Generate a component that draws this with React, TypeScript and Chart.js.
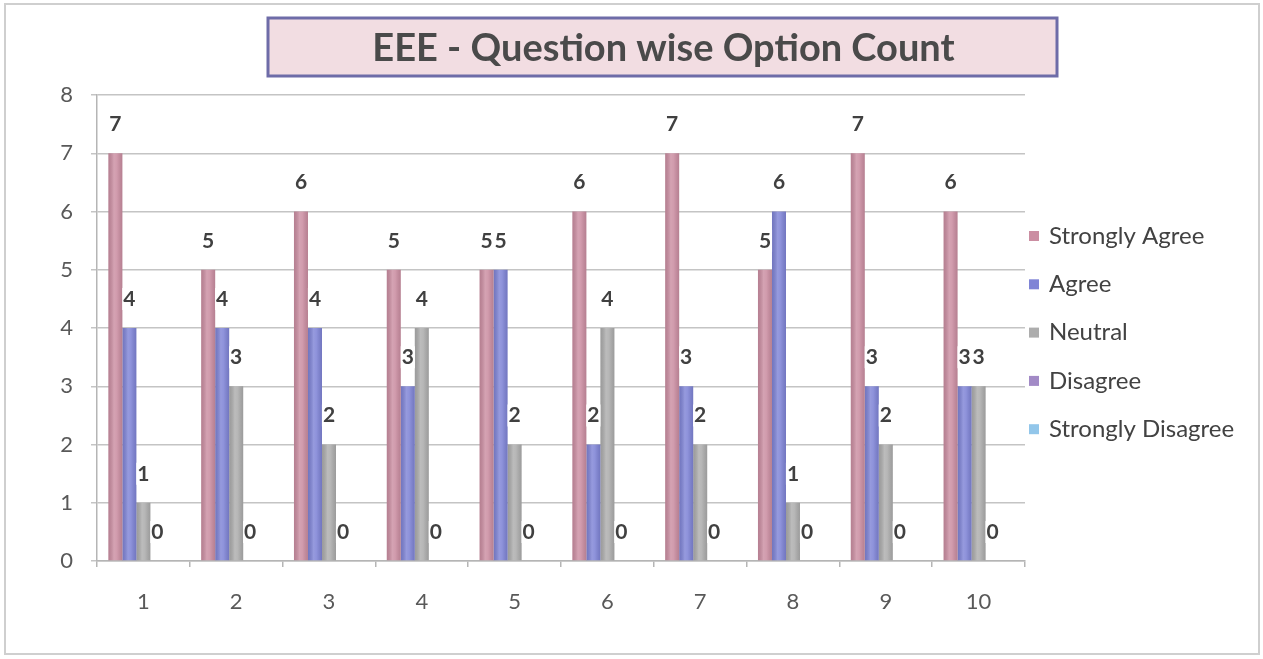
import React, { useEffect, useRef } from "react";
import { Chart, registerables } from "chart.js";

Chart.register(...registerables);

const TITLE = "EEE - Question wise Option Count";
const QUESTIONS = ["1", "2", "3", "4", "5", "6", "7", "8", "9", "10"];
const SERIES_NAMES = ["Strongly Agree", "Agree", "Neutral", "Disagree", "Strongly Disagree"];
const STRONGLY_AGREE = [7, 5, 6, 5, 5, 6, 7, 5, 7, 6];
const AGREE = [4, 4, 4, 3, 5, 2, 3, 6, 3, 3];
const NEUTRAL = [1, 3, 2, 4, 2, 4, 2, 1, 2, 3];
const DISAGREE = [0, 0, 0, 0, 0, 0, 0, 0, 0, 0];
const STRONGLY_DISAGREE = [0, 0, 0, 0, 0, 0, 0, 0, 0, 0];
const Y_TICKS = [0, 1, 2, 3, 4, 5, 6, 7, 8];
const COLORS = ["#cb8ea2", "#7f84d6", "#adadad", "#a28ac6", "#92c6ea"];
const LABELED_SERIES = 4;

const FONT = "Lato";

const framePlugin = {
  id: "frame",
  beforeDraw(chart: any) {
    const ctx = chart.ctx;
    ctx.save();
    ctx.fillStyle = "#ffffff";
    ctx.fillRect(0, 0, chart.width, chart.height);
    ctx.strokeStyle = "#cfcfcf";
    ctx.lineWidth = 2;
    ctx.strokeRect(5, 4, chart.width - 9, chart.height - 9);
    ctx.restore();
  },
};

const shadePlugin = {
  id: "barShade",
  afterDatasetsDraw(chart: any) {
    const ctx = chart.ctx;
    ctx.save();
    chart.data.datasets.forEach((_ds: any, d: number) => {
      const meta = chart.getDatasetMeta(d);
      meta.data.forEach((bar: any) => {
        const h = bar.base - bar.y;
        if (h <= 0) return;
        const left = bar.x - bar.width / 2;
        const g = ctx.createLinearGradient(left, 0, left + bar.width, 0);
        g.addColorStop(0, "rgba(0,0,0,0.10)");
        g.addColorStop(0.4, "rgba(255,255,255,0.18)");
        g.addColorStop(0.6, "rgba(255,255,255,0.12)");
        g.addColorStop(1, "rgba(0,0,0,0.10)");
        ctx.fillStyle = g;
        ctx.fillRect(left, bar.y, bar.width, h);
      });
    });
    ctx.restore();
  },
};

const titlePlugin = {
  id: "boxTitle",
  afterDraw(chart: any) {
    const ctx = chart.ctx;
    ctx.save();
    const x0 = 268, y0 = 18, w = 789, h = 58;
    ctx.fillStyle = "#f2dde2";
    ctx.fillRect(x0, y0, w, h);
    ctx.strokeStyle = "#6e6ca8";
    ctx.lineWidth = 3;
    ctx.strokeRect(x0, y0, w, h);
    ctx.fillStyle = "#4a4a4a";
    ctx.font = `bold 38px ${FONT}`;
    ctx.textAlign = "center";
    ctx.textBaseline = "middle";
    ctx.fillText(TITLE, x0 + w / 2 + 1, y0 + h / 2 + 2);
    ctx.restore();
  },
};

const legendPlugin = {
  id: "sideLegend",
  afterDraw(chart: any) {
    const ctx = chart.ctx;
    ctx.save();
    ctx.font = `24px ${FONT}`;
    ctx.textAlign = "left";
    ctx.textBaseline = "middle";
    chart.data.datasets.forEach((ds: any, i: number) => {
      const y = 236 + i * 48.3;
      ctx.fillStyle = ds.backgroundColor;
      ctx.fillRect(1029, y - 5, 10, 10);
      ctx.fillStyle = "#424242";
      ctx.fillText(ds.label, 1049, y);
    });
    ctx.restore();
  },
};

const labelPlugin = {
  id: "valueLabels",
  afterDatasetsDraw(chart: any) {
    const ctx = chart.ctx;
    ctx.save();
    ctx.font = `bold 21px ${FONT}`;
    ctx.textAlign = "center";
    ctx.textBaseline = "middle";
    for (let d = 0; d < LABELED_SERIES; d++) {
      const meta = chart.getDatasetMeta(d);
      const data = chart.data.datasets[d].data;
      meta.data.forEach((bar: any, i: number) => {
        const txt = String(data[i]);
        const tw = ctx.measureText(txt).width;
        const cx = bar.x;
        const cy = bar.y - 29;
        ctx.fillStyle = "#ffffff";
        ctx.fillRect(cx - tw / 2 - 1, cy - 11, tw + 2, 22);
        ctx.fillStyle = "#404040";
        ctx.fillText(txt, cx, cy);
      });
    }
    ctx.restore();
  },
};

export default function App() {
  const ref = useRef<HTMLCanvasElement | null>(null);
  useEffect(() => {
    document.body.style.margin = "0";
    const canvas = ref.current!;
    const seriesValues = [STRONGLY_AGREE, AGREE, NEUTRAL, DISAGREE, STRONGLY_DISAGREE];
    const chart = new Chart(canvas, {
      type: "bar",
      data: {
        labels: QUESTIONS,
        datasets: seriesValues.map((vals, i) => ({
          label: SERIES_NAMES[i],
          data: vals,
          backgroundColor: COLORS[i],
          borderWidth: 0,
          barPercentage: 1,
          categoryPercentage: 0.755,
        })),
      },
      options: {
        responsive: false,
        animation: false,
        layout: { padding: { left: 5, top: 95, right: 238, bottom: 0 } },
        plugins: {
          legend: { display: false },
          title: { display: false },
          tooltip: { enabled: false },
        },
        scales: {
          x: {
            afterFit: (s: any) => { s.height = 98; },
            grid: { drawOnChartArea: false, drawTicks: true, tickLength: 6, color: "#b5b5b5", lineWidth: 1.5 },
            border: { color: "#b5b5b5", width: 1.5 },
            ticks: { font: { family: FONT, size: 22 }, color: "#595959", padding: 22 },
          },
          y: {
            min: Y_TICKS[0],
            max: Y_TICKS[Y_TICKS.length - 1],
            afterFit: (s: any) => { s.width = 92; },
            afterBuildTicks: (s: any) => { s.ticks = Y_TICKS.map((v) => ({ value: v })); },
            grid: { color: "#c4c4c4", lineWidth: 1.5, tickLength: 6 },
            border: { color: "#b5b5b5", width: 1.5 },
            ticks: { font: { family: FONT, size: 22 }, color: "#595959", padding: 18 },
          },
        },
      },
      plugins: [framePlugin, shadePlugin, labelPlugin, legendPlugin, titlePlugin],
    });
    return () => chart.destroy();
  }, []);
  return (
    <div style={{ width: 1263, height: 659 }}>
      <canvas ref={ref} width={1263} height={659} style={{ display: "block" }} />
    </div>
  );
}
